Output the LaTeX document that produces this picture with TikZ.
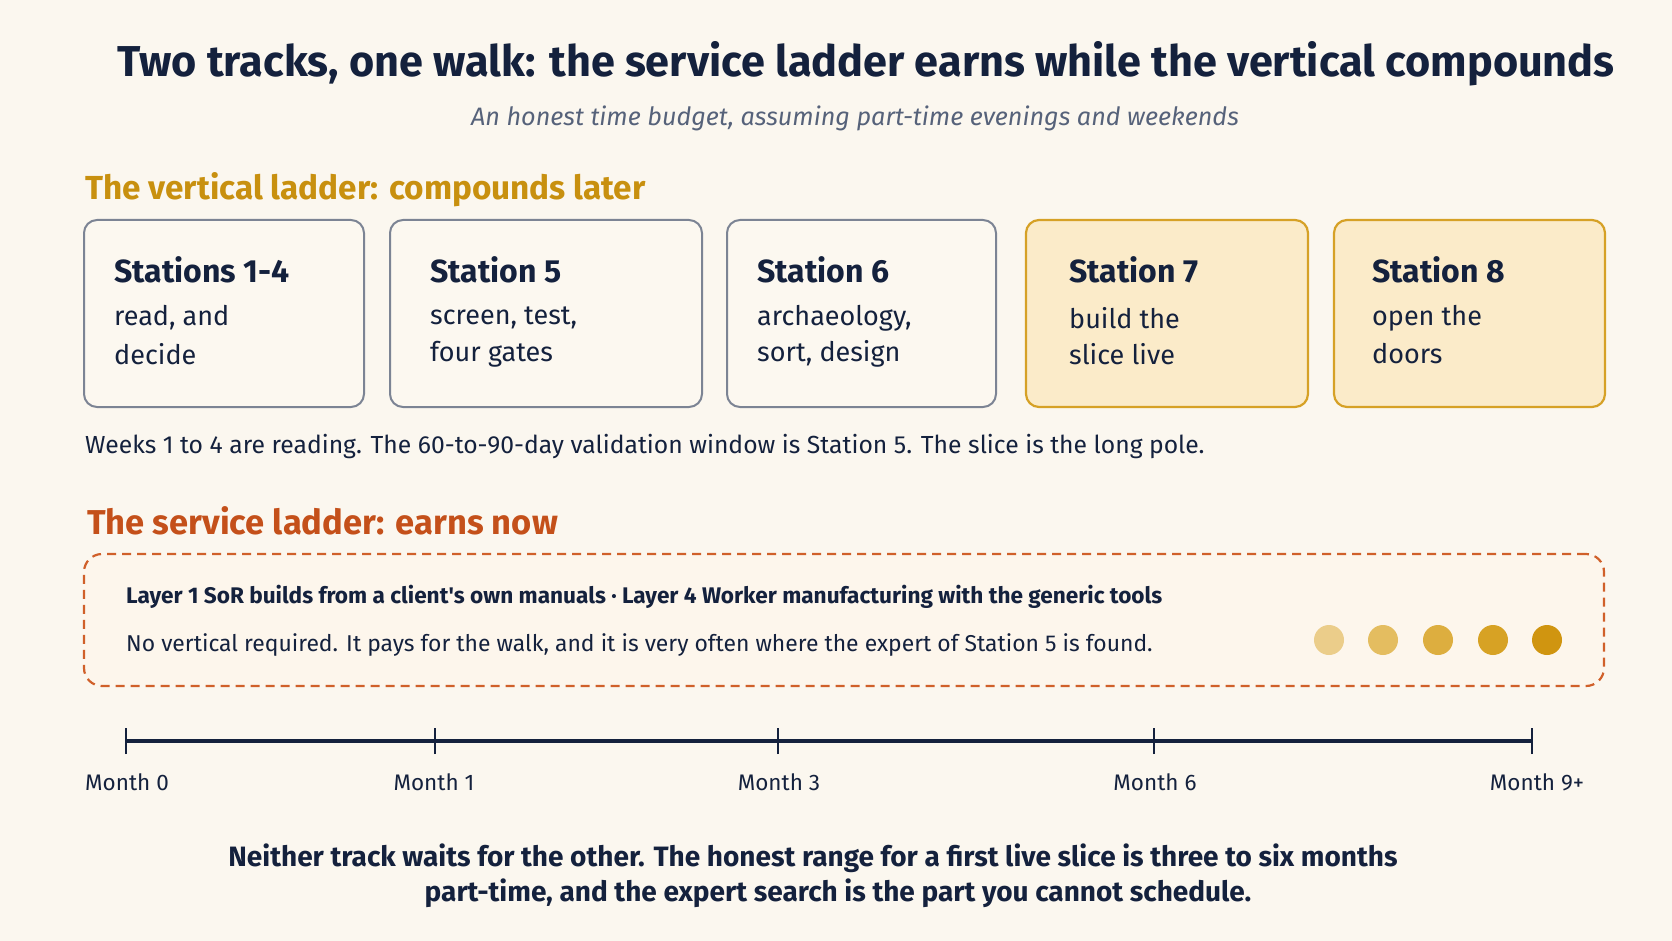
\documentclass[tikz,border=0pt]{standalone}
\usepackage{fontspec}
\setmainfont{Fira Sans}
\definecolor{bg}{HTML}{FBF7EF}
\definecolor{navy}{HTML}{14213D}
\definecolor{subgray}{HTML}{56627A}
\definecolor{gold}{HTML}{C8900F}
\definecolor{rust}{HTML}{C4501A}
\definecolor{boxgray}{HTML}{7C8494}
\definecolor{boxfill}{HTML}{FCF8F0}
\definecolor{warmfill}{HTML}{FBEBC9}
\definecolor{warmline}{HTML}{D6A126}
\definecolor{dashline}{HTML}{D0602A}
\definecolor{dashfill}{HTML}{FDF6EC}
\definecolor{dA}{HTML}{EBCD8A}
\definecolor{dB}{HTML}{E4BD60}
\definecolor{dC}{HTML}{DDAE3F}
\definecolor{dD}{HTML}{D7A224}
\definecolor{dE}{HTML}{D09510}
\tikzset{
  stbox/.style={draw=boxgray, fill=boxfill, line width=2pt, rounded corners=13pt, minimum height=187pt},
  wbox/.style={draw=warmline, fill=warmfill, line width=2.2pt, rounded corners=13pt, minimum height=187pt},
  sttitle/.style={anchor=west, inner sep=0pt, font=\fontsize{32}{38}\selectfont\bfseries, text=navy},
  stline/.style={anchor=west, inner sep=0pt, font=\fontsize{27}{32}\selectfont, text=navy},
  dot/.style={circle, inner sep=0pt, minimum size=30pt},
  mlabel/.style={inner sep=0pt, font=\fontsize{22.5}{27}\selectfont, text=navy},
  tick/.style={line width=2.4pt, draw=navy},
}
\begin{document}
\begin{tikzpicture}[x=1pt,y=-1pt]
\fill[bg] (0,0) rectangle (1672,941);
\useasboundingbox (0,0) rectangle (1672,941);

% title
\node[inner sep=0pt, font=\fontsize{43.2}{50}\selectfont\bfseries, text=navy] (title) at (866,64) {Two tracks, one walk: the service ladder earns while the vertical compounds};
\node[inner sep=0pt, font=\fontsize{25.2}{30}\selectfont\itshape, text=subgray] (sub) at (855,118) {An honest time budget, assuming part-time evenings and weekends};

% vertical ladder
\node[anchor=west, inner sep=0pt, font=\fontsize{33.3}{40}\selectfont\bfseries, text=gold] (vh) at (85,190) {The vertical ladder: compounds later};

\node[stbox, minimum width=280pt] (b1) at (224,313.5) {};
\node[stbox, minimum width=312pt] (b2) at (546,313.5) {};
\node[stbox, minimum width=269pt] (b3) at (861.5,313.5) {};
\node[wbox, minimum width=282pt] (b4) at (1167,313.5) {};
\node[wbox, minimum width=271pt] (b5) at (1469.5,313.5) {};

\node[sttitle] (b1t) at (114,270) {Stations 1-4};
\node[stline] (b1a) at (114,318) {read, and};
\node[stline] (b1b) at (114,354) {decide};

\node[sttitle] (b2t) at (430,270) {Station 5};
\node[stline] (b2a) at (430,318) {screen, test,};
\node[stline] (b2b) at (430,354) {four gates};

\node[sttitle] (b3t) at (757,270) {Station 6};
\node[stline] (b3a) at (757,318) {archaeology,};
\node[stline] (b3b) at (757,354) {sort, design};

\node[sttitle] (b4t) at (1069,270) {Station 7};
\node[stline] (b4a) at (1069,318) {build the};
\node[stline] (b4b) at (1069,354) {slice live};

\node[sttitle] (b5t) at (1372,270) {Station 8};
\node[stline] (b5a) at (1372,318) {open the};
\node[stline] (b5b) at (1372,354) {doors};

\node[anchor=west, inner sep=0pt, font=\fontsize{24.7}{29}\selectfont, text=navy] (cap) at (85,446) {Weeks 1 to 4 are reading. The 60-to-90-day validation window is Station 5. The slice is the long pole.};

% service ladder
\node[anchor=west, inner sep=0pt, font=\fontsize{34.5}{41}\selectfont\bfseries, text=rust] (sh) at (87,521) {The service ladder: earns now};

\node[draw=dashline, fill=dashfill, line width=2.2pt, dash pattern=on 9pt off 6pt, rounded corners=18pt, minimum width=1520pt, minimum height=132pt] (sbox) at (844,620) {};
\node[anchor=west, inner sep=0pt, font=\fontsize{22.6}{27}\selectfont\bfseries, text=navy] (sl1) at (126,597) {Layer 1 SoR builds from a client\textquotesingle s own manuals \textperiodcentered\ Layer 4 Worker manufacturing with the generic tools};
\node[anchor=west, inner sep=0pt, font=\fontsize{22.9}{27}\selectfont, text=navy] (sl2) at (126,645) {No vertical required. It pays for the walk, and it is very often where the expert of Station 5 is found.};

\node[dot, fill=dA] (d1) at (1329,640) {};
\node[dot, fill=dB] (d2) at (1383,640) {};
\node[dot, fill=dC] (d3) at (1438,640) {};
\node[dot, fill=dD] (d4) at (1493,640) {};
\node[dot, fill=dE] (d5) at (1547,640) {};

% timeline
\coordinate (t0) at (126,741);
\coordinate (t1) at (435,741);
\coordinate (t2) at (778,741);
\coordinate (t3) at (1154,741);
\coordinate (t4) at (1532,741);
\draw[navy, line width=3.2pt] (t0) -- (t4);
\foreach \t in {t0,t1,t2,t3,t4}{
  \draw[tick] ([yshift=-13pt]\t) -- ([yshift=13pt]\t);
}
\node[mlabel] (m0) at (127,782) {Month 0};
\node[mlabel] (m1) at (434,782) {Month 1};
\node[mlabel] (m3) at (779,782) {Month 3};
\node[mlabel] (m6) at (1155,782) {Month 6};
\node[mlabel] (m9) at (1537,782) {Month 9+};

% bottom note
\node[inner sep=0pt, font=\fontsize{28}{33}\selectfont\bfseries, text=navy] (n1) at (813,858) {Neither track waits for the other. The honest range for a first live slice is three to six months};
\node[inner sep=0pt, font=\fontsize{28}{33}\selectfont\bfseries, text=navy] (n2) at (838,893) {part-time, and the expert search is the part you cannot schedule.};
\end{tikzpicture}
\end{document}
